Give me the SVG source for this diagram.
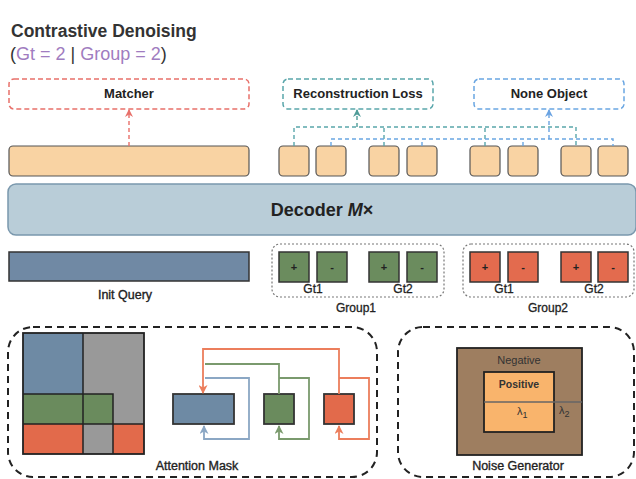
<svg xmlns="http://www.w3.org/2000/svg" width="636" height="479" viewBox="0 0 636 479">
<defs>
<style>
text{font-family:"Liberation Sans",Arial,sans-serif;fill:#222}
.lbl{font-size:13px;font-weight:bold;text-anchor:middle}
.sm{font-size:12px;text-anchor:middle;stroke:#222;stroke-width:0.3}
.cap{font-size:12.5px;text-anchor:middle;stroke:#222;stroke-width:0.35}
.pm{font-size:11px;font-weight:bold;text-anchor:middle}
.sq{fill:#f9d3a3;stroke:#555;stroke-width:1.2}
.gsq{fill:#6b8c5e;stroke:#333;stroke-width:1.5}
.rsq{fill:#e36b4e;stroke:#333;stroke-width:1.5}
.grp{fill:none;stroke:#777;stroke-width:1.2;stroke-dasharray:2 2}
.big{fill:none;stroke:#222;stroke-width:2;stroke-dasharray:7 5}
.dl{fill:none;stroke-width:1.4;stroke-dasharray:4 3}
.sl{fill:none;stroke-width:1.8}
.cell{stroke:none}
</style>
<marker id="mRed" markerWidth="8" markerHeight="8" refX="7" refY="4" orient="auto" markerUnits="userSpaceOnUse"><path d="M0,0 L8,4 L0,8 L2.5,4 z" fill="#e8706a"/></marker>
<marker id="mTeal" markerWidth="8" markerHeight="8" refX="7" refY="4" orient="auto" markerUnits="userSpaceOnUse"><path d="M0,0 L8,4 L0,8 L2.5,4 z" fill="#4f9c98"/></marker>
<marker id="mBlue" markerWidth="8" markerHeight="8" refX="7" refY="4" orient="auto" markerUnits="userSpaceOnUse"><path d="M0,0 L8,4 L0,8 L2.5,4 z" fill="#6aa3e2"/></marker>
<marker id="mOr" markerWidth="9" markerHeight="9" refX="8" refY="4.5" orient="auto" markerUnits="userSpaceOnUse"><path d="M0,0 L9,4.5 L0,9 L2.5,4.5 z" fill="#ec7e5c"/></marker>
<marker id="mGr" markerWidth="9" markerHeight="9" refX="8" refY="4.5" orient="auto" markerUnits="userSpaceOnUse"><path d="M0,0 L9,4.5 L0,9 L2.5,4.5 z" fill="#7a9a6d"/></marker>
<marker id="mBl" markerWidth="9" markerHeight="9" refX="8" refY="4.5" orient="auto" markerUnits="userSpaceOnUse"><path d="M0,0 L9,4.5 L0,9 L2.5,4.5 z" fill="#8ba7c4"/></marker>
</defs>
<rect width="636" height="479" fill="#ffffff"/>

<g id="title">
<text x="11" y="37" style="font-size:17.5px;font-weight:bold;fill:#333">Contrastive Denoising</text>
<text x="10" y="60" style="font-size:18px;fill:#333">(<tspan style="fill:#a07cc0">Gt = 2 </tspan>|<tspan style="fill:#a07cc0"> Group = 2</tspan>)</text>
</g>

<g id="matcher">
<rect x="9" y="79" width="240" height="30" rx="5" fill="none" stroke="#e8706a" stroke-width="1.5" stroke-dasharray="5 3"/>
<text class="lbl" x="129" y="98">Matcher</text>
</g>
<g id="reconstruction-loss">
<rect x="283" y="79" width="150" height="30" rx="5" fill="none" stroke="#5aa6ab" stroke-width="1.5" stroke-dasharray="5 3"/>
<text class="lbl" x="358" y="98">Reconstruction Loss</text>
</g>
<g id="none-object">
<rect x="474" y="79" width="150" height="30" rx="5" fill="none" stroke="#6aa6e2" stroke-width="1.5" stroke-dasharray="5 3"/>
<text class="lbl" x="549" y="98">None Object</text>
</g>

<g id="output-queries">
<rect class="sq" x="9" y="146" width="240" height="30" rx="4"/>
<rect class="sq" x="279" y="146" width="30" height="30" rx="4"/>
<rect class="sq" x="316" y="146" width="30" height="30" rx="4"/>
<rect class="sq" x="369" y="146" width="30" height="30" rx="4"/>
<rect class="sq" x="407" y="146" width="30" height="30" rx="4"/>
<rect class="sq" x="470" y="146" width="30" height="30" rx="4"/>
<rect class="sq" x="508" y="146" width="30" height="30" rx="4"/>
<rect class="sq" x="561" y="146" width="30" height="30" rx="4"/>
<rect class="sq" x="598" y="146" width="30" height="30" rx="4"/>
</g>

<g id="decoder">
<rect x="8" y="184" width="628" height="51" rx="8" fill="#b9cdd8" stroke="#7a98ad" stroke-width="1.5"/>
<text x="322" y="216" style="font-size:18px;font-weight:bold;text-anchor:middle">Decoder <tspan style="font-style:italic">M</tspan>×</text>
</g>

<g id="init-query">
<rect x="9" y="252" width="240" height="29" fill="#7089a4" stroke="#333" stroke-width="1.5"/>
<text class="cap" x="125" y="299">Init Query</text>
</g>

<g id="group1">
<rect class="grp" x="272" y="244" width="172" height="53" rx="8"/>
<rect class="gsq" x="279" y="252" width="30" height="30"/>
<rect class="gsq" x="317" y="252" width="30" height="30"/>
<rect class="gsq" x="369" y="252" width="30" height="30"/>
<rect class="gsq" x="407" y="252" width="30" height="30"/>
<text class="pm" x="294" y="271">+</text>
<text class="pm" x="332" y="271">-</text>
<text class="pm" x="384" y="271">+</text>
<text class="pm" x="422" y="271">-</text>
<text class="sm" x="313" y="293">Gt1</text>
<text class="sm" x="403" y="293">Gt2</text>
<text class="sm" x="356" y="312">Group1</text>
</g>

<g id="group2">
<rect class="grp" x="463" y="244" width="171" height="53" rx="8"/>
<rect class="rsq" x="470" y="252" width="30" height="30"/>
<rect class="rsq" x="508" y="252" width="30" height="30"/>
<rect class="rsq" x="561" y="252" width="30" height="30"/>
<rect class="rsq" x="598" y="252" width="30" height="30"/>
<text class="pm" x="485" y="271">+</text>
<text class="pm" x="523" y="271">-</text>
<text class="pm" x="576" y="271">+</text>
<text class="pm" x="613" y="271">-</text>
<text class="sm" x="504" y="293">Gt1</text>
<text class="sm" x="594" y="293">Gt2</text>
<text class="sm" x="548" y="312">Group2</text>
</g>

<g id="connectors">
<path class="dl" stroke="#e8706a" d="M129,146 V110" marker-end="url(#mRed)"/>
<path class="dl" stroke="#5aa6ab" d="M294,146 V127 H576 V146 M384,146 V127 M485,146 V127"/>
<path class="dl" stroke="#4f9c98" d="M357,127 V110" marker-end="url(#mTeal)"/>
<path class="dl" stroke="#6aa6e2" d="M331,146 V139 H613 V146 M422,146 V139 M523,146 V139"/>
<path class="dl" stroke="#6aa3e2" d="M549,139 V110" marker-end="url(#mBlue)"/>
</g>

<g id="attention-mask">
<rect class="big" x="8" y="327" width="369" height="150" rx="25"/>
<rect class="cell" x="23" y="333" width="121" height="121" fill="#999999"/>
<rect class="cell" x="23" y="333" width="60" height="61" fill="#6e8aa4"/>
<rect class="cell" x="23" y="394" width="90" height="30" fill="#6a8b5d"/>
<rect class="cell" x="23" y="424" width="60" height="30" fill="#e26a4b"/>
<rect class="cell" x="113" y="424" width="31" height="30" fill="#e26a4b"/>
<path d="M83,333 V454 M23,394 H113 V454 M23,424 H144" fill="none" stroke="#222" stroke-width="1.5"/>
<rect x="23" y="333" width="121" height="121" fill="none" stroke="#222" stroke-width="1.8"/>
<rect x="173" y="394" width="61" height="30" fill="#6e8aa4" stroke="#333" stroke-width="1.8"/>
<rect x="264" y="394" width="30" height="30" fill="#6a8b5d" stroke="#333" stroke-width="1.8"/>
<rect x="324" y="394" width="30" height="30" fill="#e26a4b" stroke="#333" stroke-width="1.8"/>
<text class="cap" x="197" y="470">Attention Mask</text>
</g>

<g id="mask-connectors">
<path class="sl" stroke="#ec7e5c" d="M339,394 V349 H203 V393" marker-end="url(#mOr)"/>
<path class="sl" stroke="#ec7e5c" d="M339,378 H369 V439 H339 V426" marker-end="url(#mOr)"/>
<path class="sl" stroke="#7a9a6d" d="M279,394 V364 H205"/>
<path class="sl" stroke="#7a9a6d" d="M279,378 H309 V439 H279 V426" marker-end="url(#mGr)"/>
<path class="sl" stroke="#8ba7c4" d="M205,378 H249 V439 H204 V426" marker-end="url(#mBl)"/>
</g>

<g id="noise-generator">
<rect class="big" x="398" y="327" width="236" height="150" rx="25"/>
<rect x="457" y="348" width="125" height="107" fill="#9e7e60" stroke="#222" stroke-width="1.8"/>
<rect x="484" y="372" width="70" height="60" fill="#f9b46c" stroke="#222" stroke-width="1.8"/>
<path d="M484,402 H582" stroke="#666" stroke-width="1.5"/>
<text x="519" y="364" style="font-size:11px;text-anchor:middle;fill:#333">Negative</text>
<text x="519" y="388" style="font-size:10.5px;font-weight:bold;text-anchor:middle;fill:#333">Positive</text>
<text x="517" y="415" style="font-size:11px;fill:#333">λ<tspan dy="3" style="font-size:9px">1</tspan></text>
<text x="559" y="414" style="font-size:11px;fill:#333">λ<tspan dy="3" style="font-size:9px">2</tspan></text>
<text class="cap" x="518" y="470">Noise Generator</text>
</g>
</svg>
